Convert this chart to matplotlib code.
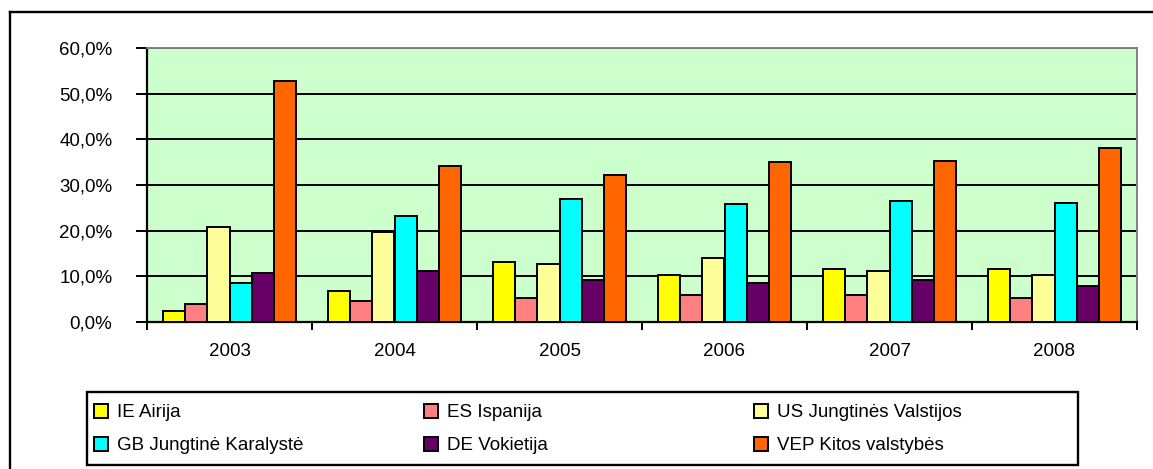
import numpy as np
import matplotlib.pyplot as plt
from matplotlib.lines import Line2D
from matplotlib.patches import Rectangle
from matplotlib.ticker import FuncFormatter, FixedLocator

plt.rcParams['font.family'] = ['Liberation Sans', 'DejaVu Sans']

years = ['2003', '2004', '2005', '2006', '2007', '2008']
labels = ['IE Airija', 'ES Ispanija', 'US Jungtinės Valstijos',
          'GB Jungtinė Karalystė', 'DE Vokietija', 'VEP Kitos valstybės']
ie = [2.4, 6.8, 13.2, 10.4, 11.7, 11.7]
es = [4.0, 4.7, 5.2, 6.0, 6.0, 5.2]
us = [20.8, 19.6, 12.8, 14.1, 11.2, 10.4]
gb = [8.6, 23.3, 26.9, 25.8, 26.5, 26.1]
de = [10.8, 11.2, 9.2, 8.6, 9.2, 7.9]
vep = [52.8, 34.2, 32.2, 35.0, 35.3, 38.2]
series = [ie, es, us, gb, de, vep]
colors = ['#FFFF00', '#FF8080', '#FFFF99', '#00FFFF', '#660066', '#FF6600']

fig = plt.figure(figsize=(11.53, 4.69), dpi=100)
W, H = 1153, 469
ax = fig.add_axes([147 / W, 1 - 322 / H, 990 / W, 274 / H])
ax.set_facecolor('#CCFFCC')

x = np.arange(len(years))
bw = 0.134
bars = []
for i, (vals, c) in enumerate(zip(series, colors)):
    b = ax.bar(x + (i - 2.5) * bw, vals, bw, color=c, edgecolor='black',
               linewidth=1.4, zorder=3)
    bars.append(b)

ax.set_xlim(-0.5, 5.5)
ax.set_ylim(0, 60)
ax.set_yticks(np.arange(0, 61, 10))
ax.yaxis.set_major_formatter(FuncFormatter(lambda v, p: f'{v:.1f}%'.replace('.', ',')))
ax.grid(axis='y', color='black', linewidth=1.4, zorder=1)
ax.set_axisbelow(True)

ax.set_xticks(x)
ax.set_xticklabels(years)
ax.xaxis.set_minor_locator(FixedLocator(np.arange(-0.5, 6, 1)))
ax.tick_params(axis='x', which='major', length=0, pad=15, labelsize=13.5)
ax.tick_params(axis='x', which='minor', length=6, width=1.4, direction='out')
ax.tick_params(axis='y', length=8, width=1.4, direction='out', pad=17, labelsize=13.5)

for s in ['left', 'bottom']:
    ax.spines[s].set_color('black')
    ax.spines[s].set_linewidth(1.6)
for s in ['top', 'right']:
    ax.spines[s].set_color('#808080')
    ax.spines[s].set_linewidth(1.4)

# outer chart frame (right and bottom edges fall outside the picture)
fig.add_artist(Line2D([10 / W, 10 / W], [-0.1, 1 - 12 / H], color='black', lw=1.7))
fig.add_artist(Line2D([10 / W, 1.1], [1 - 12 / H, 1 - 12 / H], color='black', lw=1.7))

# legend frame and three columns
fig.add_artist(Rectangle((87 / W, 1 - 465 / H), 991 / W, 73 / H,
                         transform=fig.transFigure, fill=False,
                         edgecolor='black', lw=1.7))
col_x = [94, 424, 754]
for k, x0 in enumerate(col_x):
    idx = [k, k + 3]
    fig.legend([bars[i] for i in idx], [labels[i] for i in idx],
               loc='upper left', bbox_to_anchor=(x0 / W, 1 - 404 / H),
               fontsize=13.5, frameon=False, handlelength=0.75,
               handleheight=0.75, handletextpad=0.5, borderaxespad=0,
               borderpad=0, labelspacing=0.82)

fig.savefig('out.png', dpi=100)
